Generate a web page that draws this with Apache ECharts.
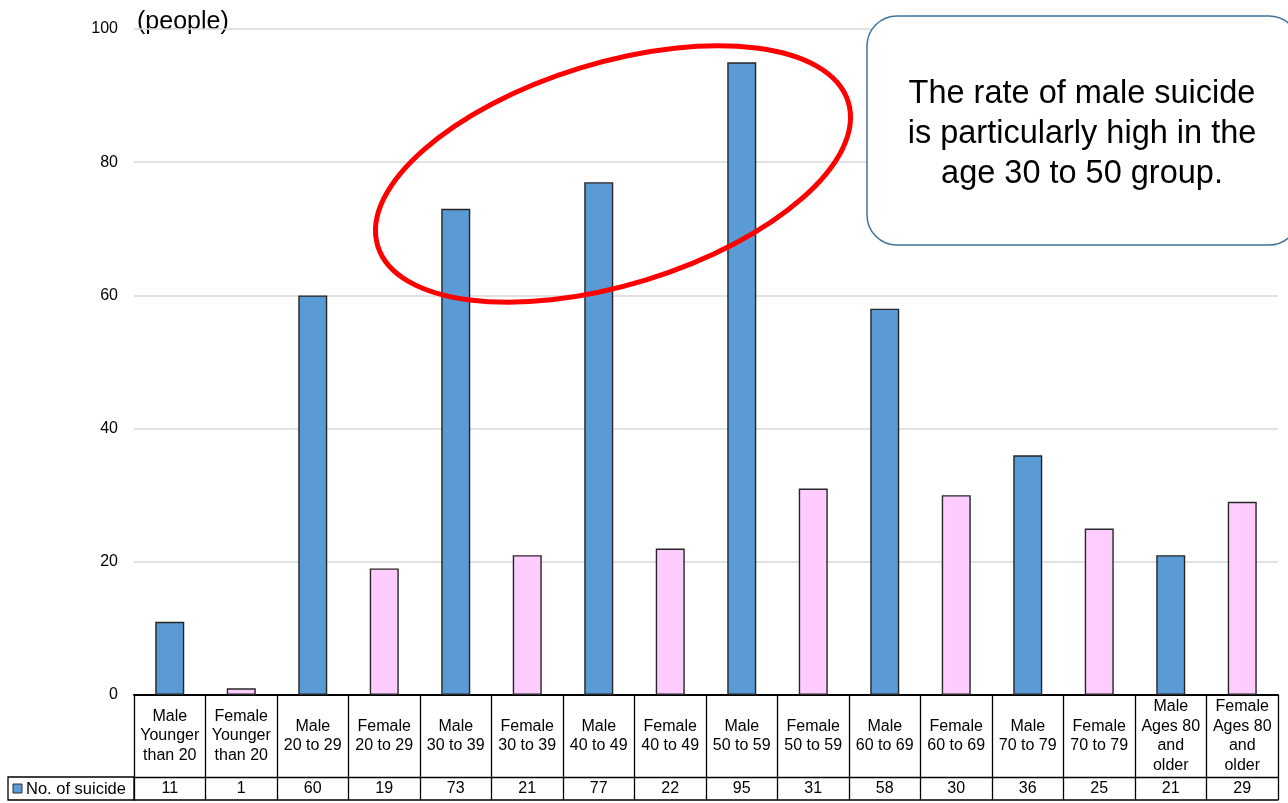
<!DOCTYPE html>
<html>
<head>
<meta charset="utf-8">
<style>
  html, body { margin: 0; padding: 0; background: #fff; }
  #chart { width: 1288px; height: 803px; }
</style>
<script src="https://cdn.jsdelivr.net/npm/echarts@6/dist/echarts.min.js"></script>
</head>
<body>
<div id="chart"></div>
<script>
// Suicides by sex and age group
const categories = [
  'Male\nYounger\nthan 20', 'Female\nYounger\nthan 20',
  'Male\n20 to 29', 'Female\n20 to 29',
  'Male\n30 to 39', 'Female\n30 to 39',
  'Male\n40 to 49', 'Female\n40 to 49',
  'Male\n50 to 59', 'Female\n50 to 59',
  'Male\n60 to 69', 'Female\n60 to 69',
  'Male\n70 to 79', 'Female\n70 to 79',
  'Male\nAges 80\nand\nolder', 'Female\nAges 80\nand\nolder'
];
const sexes = ['M','F','M','F','M','F','M','F','M','F','M','F','M','F','M','F'];
const suicides = [11, 1, 60, 19, 73, 21, 77, 22, 95, 31, 58, 30, 36, 25, 21, 29];
const yTicks = [0, 20, 40, 60, 80, 100];
const seriesName = 'No. of suicide';
const unitLabel = '(people)';
const note = 'The rate of male suicide\nis particularly high in the\nage 30 to 50 group.';

const MALE = '#5b9bd5';
const FEMALE = '#ffccff';
const FONT = '"Liberation Sans", Arial, sans-serif';

const chart = echarts.init(document.getElementById('chart'), null, { renderer: 'canvas' });

chart.setOption({
  animation: false,
  backgroundColor: '#fff',
  textStyle: { fontFamily: FONT, color: '#000' },
  grid: { left: 134, right: 10, top: 29, bottom: 108, containLabel: false },
  xAxis: [
    {
      // category row of the data table
      type: 'category',
      data: categories,
      position: 'bottom',
      axisLine: { show: true, lineStyle: { color: '#000', width: 2 } },
      axisTick: { show: true, alignWithLabel: false, interval: 0, length: 105, lineStyle: { color: '#000', width: 1.3 } },
      axisLabel: {
        interval: 0, fontSize: 16, lineHeight: 19.5, color: '#000',
        fontFamily: FONT, verticalAlign: 'middle', align: 'center', margin: 41
      },
      splitLine: { show: false }
    },
    {
      // value row of the data table
      type: 'category',
      data: suicides.map(String),
      position: 'bottom',
      offset: 82,
      axisLine: { show: true, lineStyle: { color: '#000', width: 1.3 } },
      axisTick: { show: false },
      axisLabel: { interval: 0, fontSize: 16, color: '#000', fontFamily: FONT, verticalAlign: 'middle', margin: 12 }
    },
    {
      // bottom border of the table
      type: 'category',
      data: suicides.map(String),
      position: 'bottom',
      offset: 105,
      axisLine: { show: true, lineStyle: { color: '#000', width: 1.5 } },
      axisTick: { show: false },
      axisLabel: { show: false }
    }
  ],
  yAxis: {
    type: 'value',
    min: yTicks[0],
    max: yTicks[yTicks.length - 1],
    interval: yTicks[1] - yTicks[0],
    axisLine: { show: false },
    axisTick: { show: false },
    axisLabel: { fontSize: 16, color: '#000', fontFamily: FONT, margin: 16 },
    splitLine: { show: true, lineStyle: { color: '#d9d9d9', width: 1.5 } }
  },
  series: [{
    name: seriesName,
    type: 'bar',
    xAxisIndex: 0,
    barWidth: 29,
    data: suicides.map((v, i) => ({
      value: v,
      itemStyle: { color: sexes[i] === 'M' ? MALE : FEMALE }
    })),
    itemStyle: { borderColor: '#262626', borderWidth: 1.4 }
  }],
  graphic: [
    {
      type: 'text', left: 137, top: 10,
      style: { text: unitLabel, font: '25px ' + FONT, fill: '#000' }
    },
    {
      // legend cell of the table
      type: 'rect', shape: { x: 8, y: 777, width: 126, height: 23 },
      style: { fill: 'none', stroke: '#000', lineWidth: 1.3 }
    },
    {
      type: 'rect', shape: { x: 13, y: 784, width: 9, height: 9 },
      style: { fill: MALE, stroke: '#333', lineWidth: 1 }
    },
    {
      type: 'text', x: 26, y: 789,
      style: { text: seriesName, font: '16.5px ' + FONT, fill: '#000', verticalAlign: 'middle' }
    },
    {
      // highlight ring around the 30s-50s male bars
      type: 'ellipse', x: 613, y: 174, rotation: 17 * Math.PI / 180,
      shape: { cx: 0, cy: 0, rx: 246, ry: 111 },
      style: { fill: 'none', stroke: '#ff0000', lineWidth: 5 },
      z: 100
    },
    {
      type: 'rect', shape: { x: 867, y: 16, width: 432, height: 229, r: 30 },
      style: { fill: '#fff', stroke: '#41719c', lineWidth: 1.5 },
      z: 100
    },
    {
      type: 'text', x: 1082, y: 134,
      style: {
        text: note, font: '32.5px ' + FONT, fill: '#000', lineHeight: 40,
        align: 'center', verticalAlign: 'middle'
      },
      z: 101
    }
  ]
});
</script>
</body>
</html>
